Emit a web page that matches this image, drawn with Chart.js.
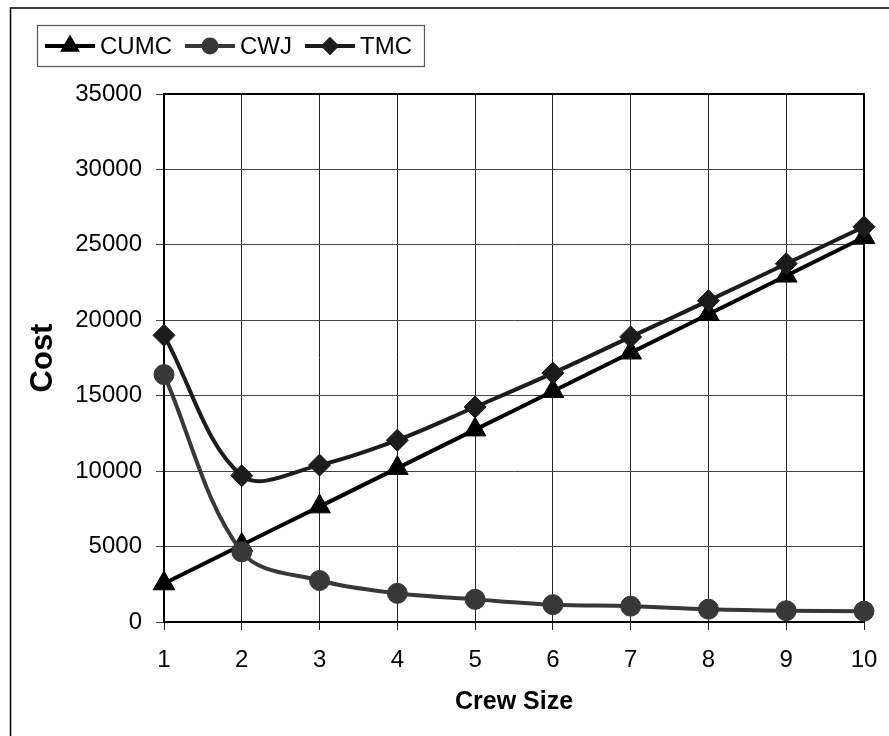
<!DOCTYPE html>
<html>
<head>
<meta charset="utf-8">
<script src="https://cdn.jsdelivr.net/npm/chart.js@4/dist/chart.umd.min.js"></script>
<style>
html,body{margin:0;padding:0;background:#fff;}
#wrap{width:889px;height:736px;position:relative;}
</style>
</head>
<body>
<div id="wrap"><canvas id="c" width="889" height="736"></canvas></div>
<script>
const crewSizes = ['1','2','3','4','5','6','7','8','9','10'];
const cumc = [2550, 5100, 7650, 10200, 12750, 15300, 17850, 20400, 22950, 25500];
const cwj  = [16400, 4650, 2750, 1900, 1500, 1150, 1050, 850, 750, 720];
const tmc  = [19000, 9700, 10400, 12050, 14250, 16500, 18900, 21300, 23750, 26200];
const yTicks = [0, 5000, 10000, 15000, 20000, 25000, 30000, 35000];

const FONT = '"Liberation Sans", Arial, sans-serif';

const frame = {
  id: 'frame',
  beforeDraw(chart) {
    const ctx = chart.ctx;
    ctx.save();
    ctx.fillStyle = '#fff';
    ctx.fillRect(0, 0, chart.width, chart.height);
    ctx.strokeStyle = '#000';
    ctx.lineWidth = 1.5;
    ctx.strokeRect(10.5, 8, chart.width + 20, chart.height + 20);
    ctx.restore();
  },
  beforeDatasetsDraw(chart) {
    const a = chart.chartArea, ctx = chart.ctx;
    ctx.save();
    ctx.strokeStyle = '#000';
    ctx.lineWidth = 2;
    ctx.strokeRect(a.left, a.top, a.right - a.left, a.bottom - a.top);
    ctx.restore();
  }
};

const legendBox = {
  id: 'legendBox',
  afterDraw(chart) {
    const ctx = chart.ctx;
    ctx.save();
    ctx.font = '24px ' + FONT;
    ctx.textBaseline = 'middle';
    const cy = 46;
    let x = 45;
    const radii = [7.5, 6.5, 6.5];
    chart.data.datasets.forEach((ds, i) => {
      ctx.strokeStyle = ds.borderColor;
      ctx.lineWidth = 4;
      ctx.beginPath();
      ctx.moveTo(x, cy);
      ctx.lineTo(x + 50, cy);
      ctx.stroke();
      ctx.fillStyle = ds.pointBackgroundColor;
      ctx.strokeStyle = ds.pointBorderColor;
      Chart.helpers.drawPoint(ctx, {pointStyle: ds.pointStyle, radius: radii[i], rotation: 0, borderWidth: 1}, x + 25, cy);
      ctx.fillStyle = '#000';
      ctx.fillText(ds.label, x + 55, cy + 1);
      x += 55 + ctx.measureText(ds.label).width + 13;
    });
    ctx.strokeStyle = '#555';
    ctx.lineWidth = 1.2;
    ctx.strokeRect(37.5, 25.5, x - 37 - 1, 41);
    ctx.restore();
  }
};

const mk = (label, data, color, style, radius, order) => ({
  label, data, order,
  borderColor: color, backgroundColor: color,
  pointBackgroundColor: color, pointBorderColor: color,
  pointStyle: style, pointRadius: radius, pointHoverRadius: radius,
  pointBorderWidth: 1, borderWidth: 4, tension: 0.35, clip: false
});

new Chart(document.getElementById('c'), {
  type: 'line',
  data: {
    labels: crewSizes,
    datasets: [
      mk('CUMC', cumc, '#000000', 'triangle', 12.5, 3),
      mk('CWJ', cwj, '#383838', 'circle', 10, 2),
      mk('TMC', tmc, '#1c1c1c', 'rectRot', 11, 1)
    ]
  },
  options: {
    responsive: false,
    animation: false,
    events: [],
    layout: {padding: {left: 0, top: 94, right: 25, bottom: 0}},
    plugins: {legend: {display: false}, tooltip: {enabled: false}},
    scales: {
      x: {
        type: 'category',
        offset: false,
        grid: {color: '#222', lineWidth: 1, tickLength: 8, offset: false},
        border: {display: true, color: '#000', width: 2},
        ticks: {color: '#000', font: {family: FONT, size: 24}, padding: 16, maxRotation: 0, autoSkip: false},
        title: {display: true, text: 'Crew Size', color: '#000', font: {family: FONT, size: 25, weight: 'bold'}, padding: {top: 0, bottom: 19}},
        afterFit(s) { s.height = 114; s.paddingLeft = 0; s.paddingRight = 0; }
      },
      y: {
        min: 0, max: 35000,
        afterBuildTicks(s) { s.ticks = yTicks.map(v => ({value: v})); },
        grid: {color: '#444', lineWidth: 1, tickLength: 8},
        border: {display: true, color: '#000', width: 2},
        ticks: {color: '#000', font: {family: FONT, size: 24}, padding: 14, callback: v => String(v)},
        title: {display: true, text: 'Cost', color: '#000', font: {family: FONT, size: 31, weight: 'bold'}, padding: {top: 25, bottom: 0}},
        afterFit(s) { s.width = 164; s.paddingTop = 0; s.paddingBottom = 0; }
      }
    }
  },
  plugins: [frame, legendBox]
});
</script>
</body>
</html>
